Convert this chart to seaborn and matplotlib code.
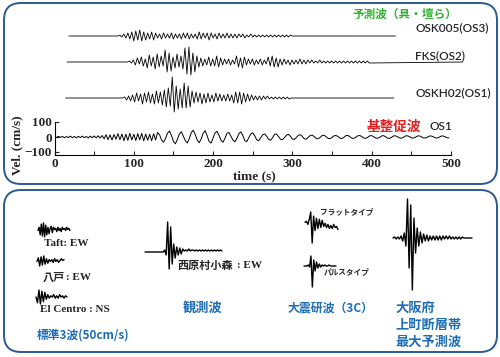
import numpy as np
import pandas as pd
import matplotlib.pyplot as plt
import seaborn as sns
from matplotlib.patches import FancyBboxPatch

# ==========================================
# Digitised traces (read off the reference)
# ==========================================
STEP = 2.5  # s between digitised samples

# predicted waves: (flat start, active start, flat end) in s, values in px
osk005_span = (18, 80, 430)
osk005_vals = [0, 1, -1, 2, -2, 3, -3, 4,
               -5, 5, -4, 6, -5, 4, -4, 3, -3, 4, -4, 3,
               -2, 2, -3, 3, -2, 2, -2, 3, -3, 2, -2, 2, -3, 3, -2, 3, -3, 2, -2, 2,
               -3, 4, -3, 3, -2, 3, -4, 3, -2, 2, -3, 3, -2, 2, -2, 3, -2, 2, -2, 2,
               -2, 2, -1, 2, -2, 1, -1, 2, -1, 1, -1, 1, -1, 1, -1, 1, -1, 1, -1, 1,
               -1, 1, -1, 1, -1, 1, -1, 1, 0]

fks_span = (16, 92, 515)
fks_vals = [0, 1, -1,
            2, -3, 4, -2, 5, -4, 3, -6, 7, -4, 5, -7, 8, -5, 6, -4,
            12, -10, 9, -9,
            5, -6, 8, -5, 6, -7,
            14, -12, 15, -13, 9, -10,
            6, -5, 4, -4, 3, -3, 5, -4,
            3, -4, 6, -5, 4, -3, 3, -2, 3, -3, 2, -2,
            6, -5, 4, -6, 5, -3,
            3, -2, 3, -3, 2, -2, 3, -3, 2, -2,
            5, -4, 6, -5, 4, -5, 3, -3,
            3, -2, 2, -3, 2, -2, 2, -2, 3, -2, 2, -2, 2, -1, 2, -1, 1, -1, 2, -1, 1, -1, 1, -1,
            1, -1, 1, -1, 1, -1, 1, -1, 1, -1, 1, -1, 1, -1, 1, -1, 1, -1, 1, -1]

oskh02_span = (14, 86, 428)
oskh02_vals = [0, 1, -2, 2, -3, 3,
               -4, 5, -3, 4, -6, 5, -4, 6, -5, 4, -6, 7, -5, 6, -7, 8,
               -9, 10, -8, 21, -14, 12, -11, 9,
               -10, 15, -10, 12, -9, 7,
               -5, 6, -4, 5, -6, 4, -5, 5, -4, 3, -4, 5, -3, 4, -3, 3, -3, 4,
               -3, 3, -5, 6, -5, 6, -6, 5, -4, 4, -3, 3, -2, 2, -2, 2,
               -2, 2, -1, 2, -1, 1, -1, 1, -1, 1, -1, 1, -1, 1, -1, 0]

# basin-corrected wave OS1, cm/s from t = 0
os1_vals = [3, -4, 5, -3, 4, -5, 3, -4, 6, -5, 4, -6, 5, -4, 6, -5, 4, -7, 6, -5, 7, -6, 8, -7,
            10, -12, 15, -18, 14, -20, 16, -15, 22, -18, 20, -25, 18, -22, 25, -20, 18, -24,
            22, -19, 24, -26, 20, -22, 18, -25, 22, -20,
            30, 15, -20, -35, -10, 25, 40, 10, -30, -45, -15, 20, 35, 5, -25, -40, -10, 30, 45, 15,
            -20, -38, -12, 25, 42, 8, -30, -40, -5, 28, 38, 10, -22, -35, -8, 25, 30, 5, -20, -32,
            -10, 22, 35, 10, -25, -30, -5, 20, 28, 8, -18, -25,
            -5, 15, 20, 5, -15, -22, -5, 18, 20, 3, -15, -18, -4, 12, 18, 5, -14, -16, -3, 12,
            15, 4, -12, -14, -2, 10, 12, 3,
            -10, -12, -2, 10, 12, 2, -9, -11, -3, 8, 10, 3, -8, -10, -2, 9, 11, 2, -8, -9,
            -2, 8, 10, 3, -7, -9, -2, 8, 9, 2, -7, -8, -3, 7, 9, 2, -8, -9, -2, 7,
            8, 2, -6, -8, -2, 7, 8, 3, -6, -7, -2, 6, 8, 2, -6, -7, -2, 6, 7, 2,
            -5, -7, -2, 6, 7, 2, -5, -6]

# small sample waveforms in the lower panel (arbitrary units)
taft_vals = [0, 3, -4, 6, -5, 7, -6, 5, -4, 3, -3, 2, 4, -2, 3, 1, 2, -1, 3, 0,
             2, -1, 3, 1, 2, 0, 3, 1, 2, 0]
hachinohe_vals = [0, 4, -5, 5, -4, 6, -3, 3, -2, 2, 0, 2, -1, 3, 0, 2, -1, 1, 3, 1, 2]
elcentro_vals = [0, -5, 6, -6, 5, -4, 4, -2, 2, -1, 1, 0, 2, -1, 1, -1, 2, 0, 1, -1, 1, 0]
nishihara_vals = [0, 0, 0, 0, 0, 0, 0, 0, 0, 0, 0, 0, 0, 2, -3, 30, -17, 25, -12, 8,
                  -6, 5, -3, 4, -2, 3, 1, 2, 1, 3, 1, 2, 2, 1, 2, 1, 2, 1, 2, 1,
                  2, 1, 2, 1, 2, 1, 2, 1, 2, 1, 2, 1]
flat_vals = [0, 1, -2, 3, 10, -20, 6, -8, 4, -6, 3, -5, 2, -4, -1, -5, -2, -6, -3, -6,
             -2, -5, -4, -7]
pulse_vals = [0, 0, 0, 1, -1, 10, -21, 6, -5, 4, -2, 2, -1, 1, 0, 1, 0, 0, 1, 0,
              0, 0, 0, 0]
osaka_vals = [0, 1, -1, 1, -1, 2, -3, 5, -8, 39, -30, 33, -52, 20, -15, 10, -8, 6, -5, 4,
              -3, 3, -3, 2, -2, 2, -2, 2, -2, 2, -2, 2, -1, 2, -1, 2, -1, 1, -1, 1,
              -1, 1, -1, 1, 0, 0, 0, 0, 0, 0]

# ==========================================
# Formatting
# ==========================================
sns.set_style("white")
SERIF = "Liberation Serif"
JP = "Noto Sans CJK JP"
SANS = "Lato"
plt.rcParams['font.family'] = [JP, 'DejaVu Sans']

FRAME = '#2b5a93'
BLUE = '#1f6db5'
GREEN = '#2fb02f'
RED = '#e3201f'

W, H = 500, 357
fig = plt.figure(figsize=(W / 100, H / 100), dpi=100)


def px_axes(x0, y0, x1, y1):
    return fig.add_axes([x0 / W, 1 - y1 / H, (x1 - x0) / W, (y1 - y0) / H])


def trace_frame(span, vals):
    t0, ta, t1 = span
    t = np.concatenate([[t0], ta + STEP * np.arange(len(vals)), [t1]])
    v = np.concatenate([[0], vals, [0]])
    return pd.DataFrame({'t': t, 'v': v})


def noclip(ax):
    for ln in ax.lines:
        ln.set_clip_on(False)


# background canvas in pixel units
bg = fig.add_axes([0, 0, 1, 1])
bg.set_xlim(0, W)
bg.set_ylim(H, 0)
bg.axis('off')
for (x0, y0, x1, y1) in [(4, 3, 497, 184), (4, 190, 497, 352)]:
    bg.add_patch(FancyBboxPatch((x0, y0), x1 - x0, y1 - y0,
                                boxstyle="round,pad=0,rounding_size=17",
                                fc='none', ec=FRAME, lw=1.4))

# ---- upper panel: predicted waves ----
X0, X1 = 54.5, 451
for span, vals, base in [(osk005_span, osk005_vals, 36),
                         (fks_span, fks_vals, 62),
                         (oskh02_span, oskh02_vals, 98)]:
    ax = px_axes(X0, base - 22, X1, base + 22)
    sns.lineplot(data=trace_frame(span, vals), x='t', y='v', ax=ax,
                 color='black', lw=0.6, estimator=None)
    ax.set_xlim(0, 500)
    ax.set_ylim(-22, 22)
    ax.axis('off')
    noclip(ax)

# ---- OS1 axes ----
ax = px_axes(X0, 122, X1, 155)
os1 = pd.DataFrame({'t': STEP * np.arange(len(os1_vals)), 'v': os1_vals})
sns.lineplot(data=os1, x='t', y='v', ax=ax, color='black', lw=0.7, estimator=None)
ax.set_xlim(0, 500)
ax.set_ylim(-120, 100)
ax.patch.set_alpha(0)
for s in ['top', 'right']:
    ax.spines[s].set_visible(False)
for s in ['left', 'bottom']:
    ax.spines[s].set_color('black')
    ax.spines[s].set_linewidth(0.8)
ax.set_xticks([0, 100, 200, 300, 400, 500])
ax.set_xticks([50, 150, 250, 350, 450], minor=True)
ax.set_yticks([-100, 0, 100])
ax.tick_params(direction='in', length=3, width=0.8, pad=2, labelsize=9.5,
               left=True, bottom=True)
ax.tick_params(which='minor', direction='in', length=3, width=0.8, bottom=True)
for lab in ax.get_xticklabels() + ax.get_yticklabels():
    lab.set_family(SERIF)
    lab.set_fontweight('bold')
ax.set_xlabel('')
ax.set_ylabel('')

bg.text(254, 176, 'time (s)', ha='center', va='center', fontsize=9.5,
        family=SERIF, weight='bold')
bg.text(17, 145, 'Vel. (cm/s)', ha='center', va='center', fontsize=9.5,
        family=SERIF, weight='bold', rotation=90)

bg.text(352, 14, '予測波（具・壇ら）', ha='left', va='center', fontsize=8.4,
        color=GREEN, family=JP, weight='bold')
for x, y, s in [(415, 28, 'OSK005(OS3)'), (415, 56, 'FKS(OS2)'),
                (415, 93, 'OSKH02(OS1)'), (430, 127, 'OS1')]:
    bg.text(x, y, s, ha='left', va='center', fontsize=8.5, family=SANS,
            weight='semibold')
bg.text(367, 127, '基整促波', ha='left', va='center', fontsize=9.8,
        color=RED, family=JP, weight='bold')

# ---- lower panel: sample waves ----
minis = [(taft_vals, (38, 223, 70, 237)),
         (hachinohe_vals, (37, 256, 64, 266)),
         (elcentro_vals, (36, 290, 67, 304)),
         (nishihara_vals, (145, 222, 222, 269)),
         (flat_vals, (305, 212, 338, 243)),
         (pulse_vals, (304, 256, 336, 287)),
         (osaka_vals, (393, 199, 472, 290))]
for vals, box in minis:
    ax = px_axes(*box)
    sns.lineplot(x=np.arange(len(vals)), y=vals, ax=ax, color='black',
                 lw=1.0, estimator=None)
    ax.set_xlim(0, len(vals) - 1)
    ax.set_ylim(min(vals), max(vals))
    ax.axis('off')
    noclip(ax)

bg.text(44, 244, 'Taft: EW', ha='left', va='center', fontsize=8,
        family=SERIF, weight='bold')
bg.text(43, 277, '八戸', ha='left', va='center', fontsize=8, family=JP,
        weight='bold')
bg.text(66, 277, ': EW', ha='left', va='center', fontsize=8, family=SERIF,
        weight='bold')
bg.text(40, 310, 'El Centro : NS', ha='left', va='center', fontsize=8,
        family=SERIF, weight='bold')
bg.text(177, 265, '西原村小森', ha='left', va='center', fontsize=8,
        family=JP, weight='bold')
bg.text(237, 265, ': EW', ha='left', va='center', fontsize=8, family=SERIF,
        weight='bold')
bg.text(320, 212, 'フラットタイプ', ha='left', va='center', fontsize=5.5,
        family=JP, weight='bold')
bg.text(324, 272, 'パルスタイプ', ha='left', va='center', fontsize=5.5,
        family=JP, weight='bold')

bg.text(37, 335, '標準3波(50cm/s)', ha='left', va='center', fontsize=8.5,
        color=BLUE, family=JP, weight='bold')
bg.text(183, 308, '観測波', ha='left', va='center', fontsize=9.5,
        color=BLUE, family=JP, weight='bold')
bg.text(288, 308, '大震研波（3C）', ha='left', va='center', fontsize=8.6,
        color=BLUE, family=JP, weight='bold')
for y, s in [(308, '大阪府'), (325, '上町断層帯'), (342, '最大予測波')]:
    bg.text(395, y, s, ha='left', va='center', fontsize=9.5, color=BLUE,
            family=JP, weight='bold')

fig.savefig('out.png', dpi=100)
